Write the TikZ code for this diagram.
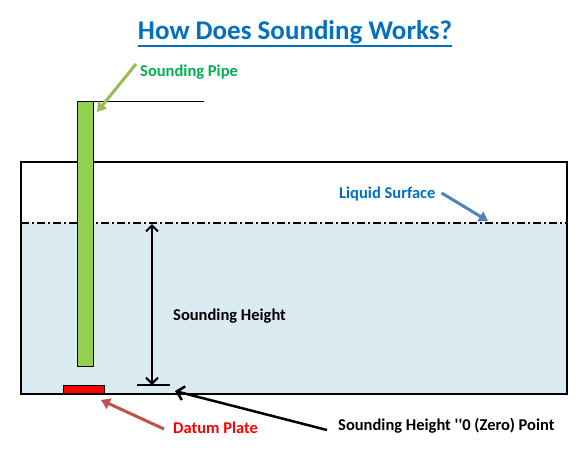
\documentclass[tikz,border=0pt]{standalone}
\usepackage{fontspec}
\setmainfont{Carlito}
\usetikzlibrary{arrows.meta}
\definecolor{titleblue}{RGB}{0,112,192}
\definecolor{labgreen}{RGB}{0,176,80}
\definecolor{pipegreen}{RGB}{146,208,80}
\definecolor{arrgreen}{RGB}{155,187,89}
\definecolor{arrblue}{RGB}{79,129,189}
\definecolor{arrred}{RGB}{192,80,77}
\definecolor{liquid}{RGB}{218,235,242}
\definecolor{plate}{RGB}{255,0,0}
\begin{document}
\begin{tikzpicture}[x=1pt,y=-1pt,
  lab/.style={font=\fontsize{16.5}{19}\selectfont\bfseries, inner sep=0pt},
  fatarrow/.style={line width=3pt,-{Triangle[width=11pt,length=9pt]}}]
\useasboundingbox (0,0) rectangle (585,458);
% liquid
\fill[liquid] (21,223) rectangle (567,394);
% tank
\draw[line width=2pt] (21,162) rectangle (567,394);
% liquid surface
\draw[line width=2pt, dash pattern=on 8pt off 3pt on 2pt off 3pt] (21,223) -- (567,223);
% pipe
\node[draw=black, fill=pipegreen, line width=0.8pt, minimum width=16pt, minimum height=265pt, inner sep=0pt, anchor=north west] (pipe) at (77,101) {};
\coordinate (pipetopend) at (204,101);
\draw[line width=1pt] (pipe.north east) -- (pipetopend);
% datum plate
\node[draw=black, fill=plate, line width=0.8pt, minimum width=41pt, minimum height=8pt, inner sep=0pt, anchor=south west] (plate) at (63,394) {};
% title
\node[font=\fontsize{27}{32}\selectfont\bfseries, text=titleblue, inner sep=0pt, anchor=base] (title) at (295,39) {How Does Sounding Works?};
\draw[titleblue, line width=2pt] (title.west |- 0,46) -- (title.east |- 0,46);
% labels
\node[lab, text=labgreen, anchor=west] (pipelab) at (140,72) {Sounding Pipe};
\node[lab, text=titleblue, anchor=west] (surflab) at (339,194) {Liquid Surface};
\node[lab, text=black, anchor=west] (heightlab) at (173,316) {Sounding Height};
\node[lab, text=plate, anchor=west] (datumlab) at (173,428) {Datum Plate};
\node[lab, text=black, anchor=west] (zerolab) at (338,426) {Sounding Height \textquotesingle\textquotesingle0 (Zero) Point};
% sounding height arrow
\coordinate (htop) at (152,224);
\coordinate (hbot) at (152,385);
\coordinate (tickl) at (137,385);
\coordinate (tickr) at (170,385);
\draw[line width=1.5pt] (tickl) -- (tickr);
\draw[line width=2pt, {Straight Barb[length=6pt,width=12pt,line width=2pt]}-{Straight Barb[length=6pt,width=12pt,line width=2pt]}] (htop) -- (hbot);
% callout arrows
\coordinate (pipetip) at (97,112);
\draw[fatarrow, draw=arrgreen, fill=arrgreen] ([xshift=-4pt,yshift=8pt]pipelab.west) -- (pipetip);
\coordinate (surftip) at (488,221);
\draw[fatarrow, draw=arrblue, fill=arrblue] ([xshift=6pt,yshift=1pt]surflab.east) -- (surftip);
\coordinate (platetip) at (101,400);
\draw[fatarrow, draw=arrred, fill=arrred] ([xshift=-9pt,yshift=-1pt]datumlab.west) -- (platetip);
\coordinate (zerotip) at (175,391);
\draw[line width=2.5pt, -{Straight Barb[length=7pt,width=14pt,line width=2.5pt]}] ([xshift=-11pt,yshift=-4pt]zerolab.west) -- (zerotip);
\end{tikzpicture}
\end{document}
